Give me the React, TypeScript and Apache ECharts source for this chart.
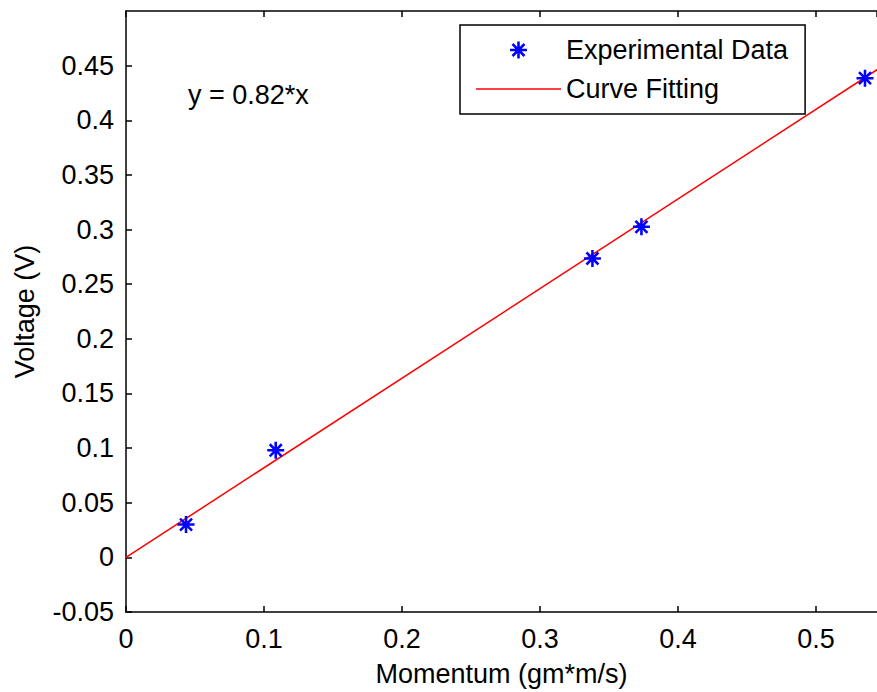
import React, { useEffect, useRef } from "react";
import * as echarts from "echarts";

const expX = [0.0435, 0.1085, 0.338, 0.3735, 0.5355];
const expY = [0.030, 0.098, 0.2735, 0.3025, 0.4385];
const fitX = [0, 0.55];
const fitY = [0, 0.451];
const equationText = "y = 0.82*x";
const xName = "Momentum (gm*m/s)";
const yName = "Voltage (V)";
const legendNames = ["Experimental Data", "Curve Fitting"];

const STAR =
  "path://M-1.2,-8L1.2,-8L1.2,8L-1.2,8Z M-8,-1.2L8,-1.2L8,1.2L-8,1.2Z M-4.8,-6.5L6.5,4.8L4.8,6.5L-6.5,-4.8Z M4.8,-6.5L6.5,-4.8L-4.8,6.5L-6.5,4.8Z";
const LINE_ICON = "path://M0,0L85,0L85,1.6L0,1.6Z";

const FONT = "Liberation Sans, Arial, sans-serif";
const FS = 27;

export default function App() {
  const ref = useRef<HTMLDivElement>(null);
  useEffect(() => {
    if (!ref.current) return;
    const chart = echarts.init(ref.current, null, { renderer: "svg" });
    const xMax = 0.5442;
    const yMin = -0.05;
    const yMax = 0.5;
    const axisCommon = {
      axisLine: { show: true, onZero: false, lineStyle: { color: "#000", width: 1.5 } },
      axisTick: { show: true, inside: true, length: 6, lineStyle: { color: "#000", width: 1.5 } },
      splitLine: { show: false },
    };
    chart.setOption({
      animation: false,
      backgroundColor: "#fff",
      grid: { left: 126, top: 11, right: 0, bottom: 71, containLabel: false },
      textStyle: { fontFamily: FONT },
      legend: {
        orient: "vertical",
        left: 460,
        top: 25,
        padding: [10, 17, 10, 16],
        borderColor: "#000",
        borderWidth: 1.5,
        backgroundColor: "#fff",
        itemWidth: 85,
        itemHeight: 17,
        itemGap: 9,
        selectedMode: false,
        textStyle: { fontFamily: FONT, fontSize: FS, color: "#000", lineHeight: 30 },
        data: [
          { name: legendNames[0], icon: STAR, itemStyle: { color: "#0000ff" } },
          { name: legendNames[1], icon: LINE_ICON, itemStyle: { color: "#ff0000" } },
        ],
      },
      xAxis: [
        {
          type: "value",
          min: 0,
          max: xMax,
          interval: 0.1,
          position: "bottom",
          name: xName,
          nameLocation: "middle",
          nameGap: 48,
          nameTextStyle: { fontFamily: FONT, fontSize: FS, color: "#000" },
          axisLabel: {
            fontFamily: FONT,
            fontSize: FS,
            color: "#000",
            margin: 13,
            showMaxLabel: false,
            formatter: (v: number) => String(parseFloat(v.toFixed(3))),
          },
          ...axisCommon,
        },
        {
          type: "value",
          min: 0,
          max: xMax,
          interval: 0.1,
          position: "top",
          axisLabel: { show: false },
          ...axisCommon,
        },
      ],
      yAxis: [
        {
          type: "value",
          min: yMin,
          max: yMax,
          interval: 0.05,
          name: yName,
          nameLocation: "middle",
          nameGap: 88,
          nameTextStyle: { fontFamily: FONT, fontSize: FS, color: "#000" },
          axisLabel: {
            fontFamily: FONT,
            fontSize: FS,
            color: "#000",
            margin: 12,
            showMaxLabel: false,
            formatter: (v: number) => String(parseFloat(v.toFixed(3))),
          },
          ...axisCommon,
        },
      ],
      graphic: [
        {
          type: "text",
          left: 188,
          top: 81,
          style: { text: equationText, font: `${FS}px ${FONT}`, fill: "#000" },
        },
      ],
      series: [
        {
          name: legendNames[0],
          type: "scatter",
          xAxisIndex: 0,
          symbol: STAR,
          symbolSize: 17,
          itemStyle: { color: "#0000ff", opacity: 1 },
          data: expX.map((x, i) => [x, expY[i]]),
          z: 3,
        },
        {
          name: legendNames[1],
          type: "line",
          xAxisIndex: 0,
          symbol: "none",
          lineStyle: { color: "#ff0000", width: 1.5 },
          itemStyle: { color: "#ff0000" },
          data: fitX.map((x, i) => [x, fitY[i]]),
          z: 2,
        },
      ],
    });
    return () => chart.dispose();
  }, []);
  return <div ref={ref} style={{ width: 877, height: 692, position: "absolute", left: 0, top: 0 }} />;
}
